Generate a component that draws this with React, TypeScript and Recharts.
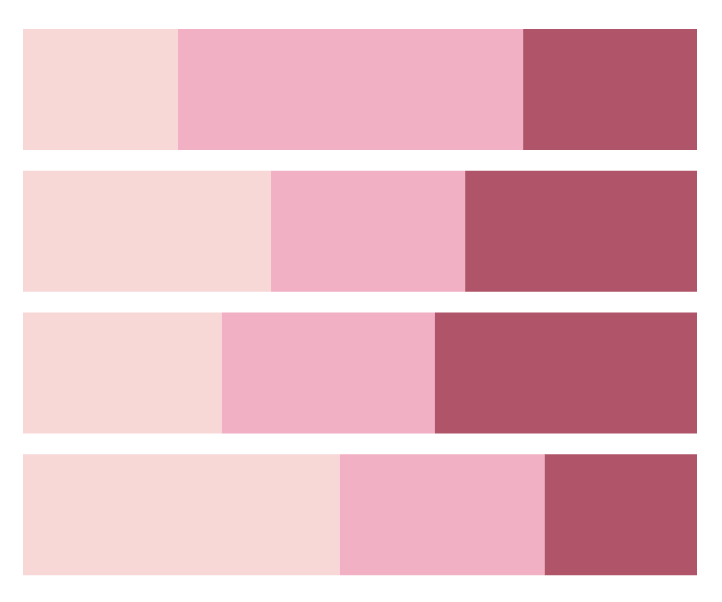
import React from "react";
import { BarChart, Bar, XAxis, YAxis } from "recharts";

const categories = ["A", "B", "C", "D"];
const seriesLow = [23.0, 36.8, 29.5, 47.0];
const seriesMid = [51.2, 28.8, 31.6, 30.4];
const seriesHigh = [25.8, 34.4, 38.9, 22.6];

const data = categories.map((c, i) => ({
  name: c,
  low: seriesLow[i],
  mid: seriesMid[i],
  high: seriesHigh[i],
}));

export default function App() {
  return (
    <div style={{ position: "absolute", left: 0, top: 0 }}>
      <BarChart
        width={722}
        height={602}
        data={data}
        layout="vertical"
        margin={{ top: 19, right: 25, bottom: 16, left: 23 }}
        barSize={121}
      >
        <XAxis type="number" domain={[0, 100]} hide />
        <YAxis type="category" dataKey="name" hide />
        <Bar dataKey="low" stackId="s" fill="#f8d7d7" isAnimationActive={false} />
        <Bar dataKey="mid" stackId="s" fill="#f2b0c5" isAnimationActive={false} />
        <Bar dataKey="high" stackId="s" fill="#b0546a" isAnimationActive={false} />
      </BarChart>
    </div>
  );
}
